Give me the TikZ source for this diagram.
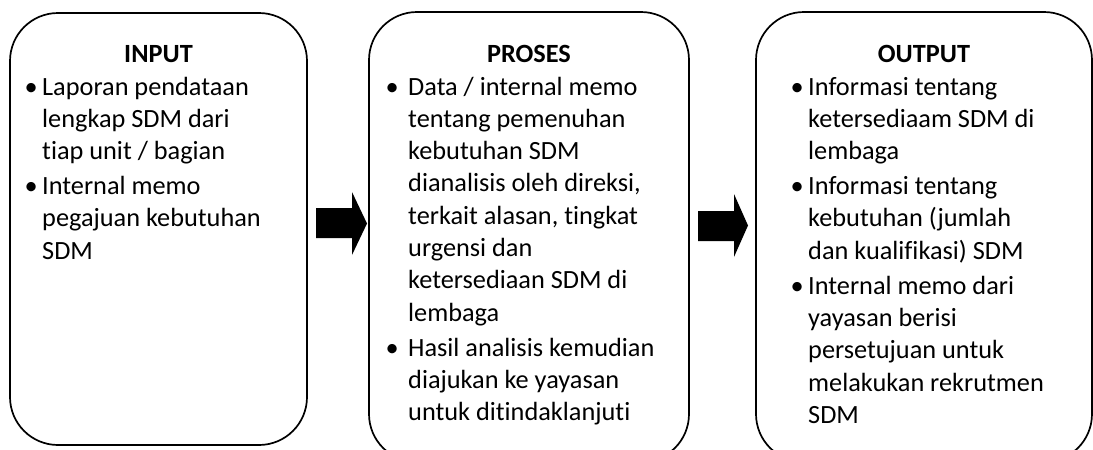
\documentclass[tikz,border=0pt]{standalone}
\usepackage{fontspec}
\setmainfont{Carlito}[Ligatures={NoCommon}]
\newcommand\bul[1]{\llap{\makebox[0pt][c]{\textbullet}\hspace{#1}}}
\begin{document}
\begin{tikzpicture}[x=1pt,y=-1pt,
  box/.style={draw, line width=1.7pt, rounded corners=48pt, inner sep=0pt},
  title/.style={font=\bfseries\fontsize{26.3}{32.3}\selectfont, anchor=base, inner sep=0pt},
  list/.style={font=\fontsize{26.3}{32.3}\selectfont, anchor=base west, inner sep=0pt},
  blockarrow/.style={fill=black}]
\useasboundingbox (0,0) rectangle (1093,450);
\clip (0,0) rectangle (1093,450);
% boxes
\node[box, minimum width=297pt, minimum height=432pt] (inbox) at (158.5,229) {};
\node[box, minimum width=320pt, minimum height=450pt] (procbox) at (529,237) {};
\node[box, minimum width=336pt, minimum height=450pt] (outbox) at (924,237) {};
% titles
\node[title] (intitle) at (158.5,62) {INPUT};
\node[title] (proctitle) at (529,62) {PROSES};
\node[title] (outtitle) at (924,62) {OUTPUT};
% lists
\node[list] (inlist) at (42,95) {\begin{tabular}[t]{@{}l@{}}
\bul{11pt}Laporan pendataan\\
lengkap SDM dari\\
tiap unit / bagian\\[2.7pt]
\bul{11pt}Internal memo\\
pegajuan kebutuhan\\
SDM
\end{tabular}};
\node[list] (proclist) at (408,95) {\begin{tabular}[t]{@{}l@{}}
\bul{16pt}Data / internal memo\\
tentang pemenuhan\\
kebutuhan SDM\\
dianalisis oleh direksi,\\
terkait alasan, tingkat\\
urgensi dan\\
ketersediaan SDM di\\
lembaga\\[2.7pt]
\bul{16pt}Hasil analisis kemudian\\
diajukan ke yayasan\\
untuk ditindaklanjuti
\end{tabular}};
\node[list] (outlist) at (808,95) {\begin{tabular}[t]{@{}l@{}}
\bul{11pt}Informasi tentang\\
ketersediaam SDM di\\
lembaga\\[2.7pt]
\bul{11pt}Informasi tentang\\
kebutuhan (jumlah\\
dan kualifikasi) SDM\\[2.7pt]
\bul{11pt}Internal memo dari\\
yayasan berisi\\
persetujuan untuk\\
melakukan rekrutmen\\
SDM
\end{tabular}};
% block arrows
\fill[blockarrow] (316,208) -- (352,208) -- (352,192) -- (367,223.5) -- (352,255) -- (352,238) -- (316,238) -- cycle;
\fill[blockarrow] (698,211) -- (734,211) -- (734,194) -- (748,225.5) -- (734,257) -- (734,241) -- (698,241) -- cycle;
\end{tikzpicture}
\end{document}
